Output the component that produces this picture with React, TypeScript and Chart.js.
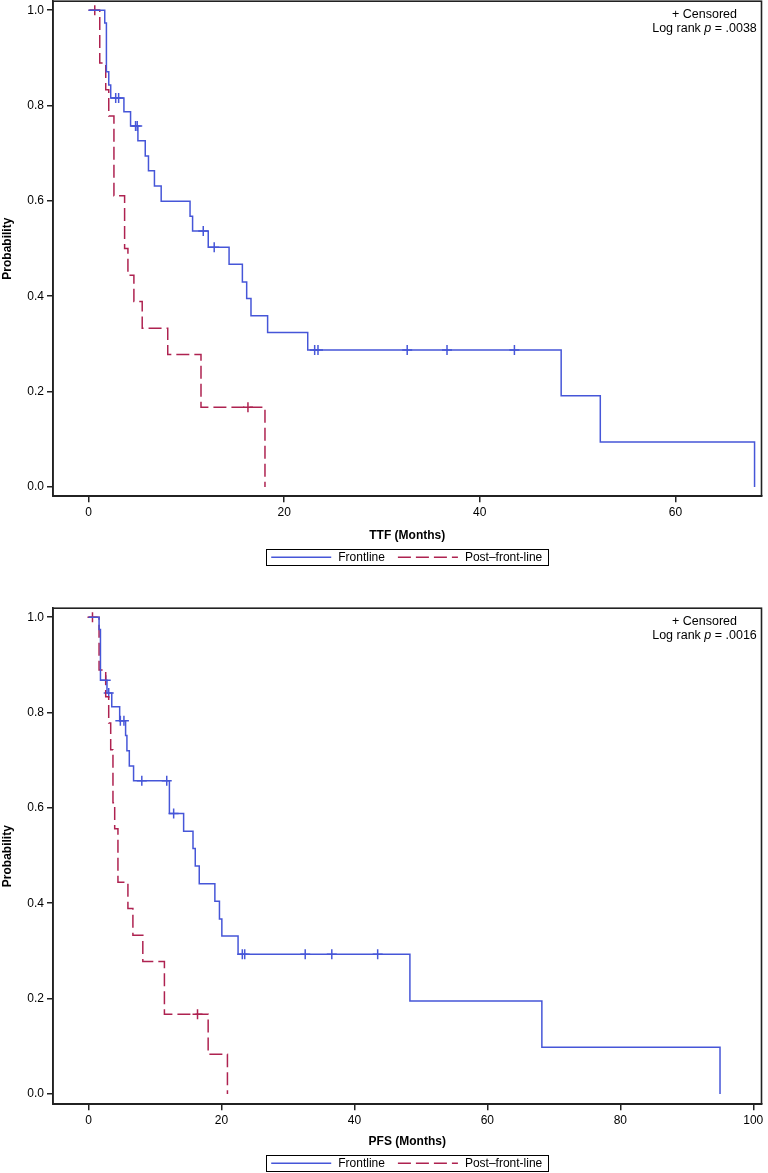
import React, { useEffect, useRef } from 'react';
import { Chart, registerables } from 'chart.js';

Chart.register(...registerables);

const FONT = "'Liberation Sans', Arial, Helvetica, sans-serif";
const BLUE = '#4656D8';
const RED = '#AE2250';

// ---------- TTF panel ----------
const ttfFrontTimes = [0, 1.66, 1.83, 2.07, 2.27, 3.62, 4.3, 5.05, 5.8, 6.13, 6.74, 7.43, 10.38, 10.64, 12.24, 14.37, 15.73, 16.17, 16.61, 18.31, 22.41, 48.32, 52.32, 68.09];
const ttfFrontSurv = [1, 0.973, 0.871, 0.843, 0.816, 0.787, 0.757, 0.726, 0.694, 0.663, 0.631, 0.599, 0.568, 0.537, 0.503, 0.467, 0.43, 0.395, 0.359, 0.324, 0.287, 0.191, 0.094, 0];
const ttfFrontCensTimes = [2.78, 3.08, 4.81, 4.98, 11.73, 12.85, 23.12, 23.46, 32.58, 36.65, 43.54];
const ttfFrontCensSurv = [0.816, 0.816, 0.757, 0.757, 0.537, 0.503, 0.287, 0.287, 0.287, 0.287, 0.287];
const ttfPostTimes = [0, 1.15, 1.76, 2.07, 2.6, 3.69, 4.03, 4.64, 5.49, 8.1, 11.5, 18.04];
const ttfPostSurv = [1, 0.889, 0.833, 0.778, 0.611, 0.5, 0.444, 0.389, 0.333, 0.278, 0.167, 0];
const ttfPostCensTimes = [0.64, 16.3];
const ttfPostCensSurv = [1, 0.167];
const ttfTicks = [0, 20, 40, 60];

// ---------- PFS panel ----------
const pfsFrontTimes = [0, 1.59, 1.8, 2.78, 3.5, 4.69, 5.58, 5.78, 6.14, 6.78, 12.17, 14.31, 15.72, 16.06, 16.66, 19.01, 19.7, 20.06, 22.5, 48.35, 68.2, 95.0];
const pfsFrontSurv = [1, 0.974, 0.868, 0.841, 0.812, 0.783, 0.752, 0.72, 0.688, 0.657, 0.588, 0.551, 0.515, 0.478, 0.441, 0.404, 0.367, 0.331, 0.293, 0.195, 0.098, 0];
const pfsFrontCensTimes = [2.59, 3.04, 4.79, 5.33, 8.02, 11.77, 12.81, 23.14, 23.5, 32.6, 36.6, 43.5];
const pfsFrontCensSurv = [0.868, 0.841, 0.783, 0.783, 0.657, 0.657, 0.588, 0.293, 0.293, 0.293, 0.293, 0.293];
const pfsPostTimes = [0, 1.59, 2.59, 3.04, 3.34, 3.68, 3.94, 4.43, 5.93, 6.68, 8.17, 11.42, 18.0, 20.9];
const pfsPostSurv = [1, 0.889, 0.833, 0.778, 0.722, 0.611, 0.556, 0.444, 0.389, 0.333, 0.278, 0.167, 0.083, 0];
const pfsPostCensTimes = [0.6, 16.4];
const pfsPostCensSurv = [1, 0.167];
const pfsTicks = [0, 20, 40, 60, 80, 100];

const yTicks = [0, 0.2, 0.4, 0.6, 0.8, 1.0];
const seriesLabels = ['Frontline', 'Post\u2013front-line'];

function pts(times: number[], surv: number[]) {
  return times.map((t, i) => ({ x: t, y: surv[i] }));
}

const decorPlugin = {
  id: 'kmDecor',
  afterDraw(chart: any, _args: any, opts: any) {
    const { ctx, chartArea: a } = chart;
    ctx.save();
    // frame
    ctx.strokeStyle = '#222';
    ctx.lineWidth = 1.6;
    ctx.setLineDash([]);
    ctx.strokeRect(a.left, a.top, a.right - a.left, a.bottom - a.top);

    // annotation
    const cx = a.right - 57;
    ctx.fillStyle = '#000';
    ctx.textBaseline = 'middle';
    ctx.font = `12.5px ${FONT}`;
    ctx.textAlign = 'center';
    ctx.fillText('+ Censored', cx, a.top + 13);
    const p1 = 'Log rank ';
    const p2 = 'p';
    const p3 = ' = ' + opts.pValue;
    const w1 = ctx.measureText(p1).width;
    const w3 = ctx.measureText(p3).width;
    ctx.font = `italic 12.5px ${FONT}`;
    const w2 = ctx.measureText(p2).width;
    let x = cx - (w1 + w2 + w3) / 2;
    const y2 = a.top + 27.5;
    ctx.textAlign = 'left';
    ctx.font = `12.5px ${FONT}`;
    ctx.fillText(p1, x, y2);
    x += w1;
    ctx.font = `italic 12.5px ${FONT}`;
    ctx.fillText(p2, x, y2);
    x += w2;
    ctx.font = `12.5px ${FONT}`;
    ctx.fillText(p3, x, y2);

    // x-axis title
    const lcx = (a.left + a.right) / 2;
    ctx.font = `bold 12px ${FONT}`;
    ctx.textAlign = 'center';
    ctx.fillStyle = '#000';
    ctx.fillText(opts.xTitle, lcx, a.bottom + opts.titleOffset);

    // legend
    const ds = chart.data.datasets;
    const items = [ds[0], ds[1]];
    ctx.font = `12px ${FONT}`;
    const lineLen = 60;
    const gapLT = 7;
    const gapItems = 13;
    const padX = 5;
    const tw = items.map((d: any) => ctx.measureText(d.label).width);
    const total = padX + lineLen + gapLT + tw[0] + gapItems + lineLen + gapLT + tw[1] + padX + 1;
    const lcy = a.bottom + opts.legendOffset;
    const bx = lcx - total / 2;
    const bh = 16;
    ctx.strokeStyle = '#000';
    ctx.lineWidth = 1;
    ctx.setLineDash([]);
    ctx.strokeRect(Math.round(bx) + 0.5, Math.round(lcy - bh / 2) + 0.5, Math.round(total), bh);
    let ix = bx + padX;
    items.forEach((d: any, i: number) => {
      ctx.strokeStyle = d.borderColor;
      ctx.lineWidth = 1.5;
      ctx.setLineDash(d.borderDash || []);
      ctx.beginPath();
      ctx.moveTo(ix, lcy);
      ctx.lineTo(ix + lineLen, lcy);
      ctx.stroke();
      ctx.setLineDash([]);
      ix += lineLen + gapLT;
      ctx.fillStyle = '#000';
      ctx.textAlign = 'left';
      ctx.textBaseline = 'middle';
      ctx.fillText(d.label, ix, lcy + 0.5);
      ix += tw[i] + gapItems;
    });
    ctx.restore();
  },
};

type PanelProps = {
  boxHeight: number;
  areaTop: number;
  areaHeight: number;
  xMin: number;
  xMax: number;
  yMin: number;
  yMax: number;
  xTicks: number[];
  xTitle: string;
  titleOffset: number;
  legendOffset: number;
  pValue: string;
  front: { x: number; y: number }[];
  frontCens: { x: number; y: number }[];
  post: { x: number; y: number }[];
  postCens: { x: number; y: number }[];
};

const EXTRA = 40;

function KMPanel(p: PanelProps) {
  const ref = useRef<HTMLCanvasElement | null>(null);
  useEffect(() => {
    const canvas = ref.current;
    if (!canvas) return;
    const canvasH = p.boxHeight + EXTRA;
    let topGuess = 0;
    const chart = new Chart(canvas, {
      type: 'line',
      data: {
        datasets: [
          {
            label: seriesLabels[0],
            data: p.front,
            borderColor: BLUE,
            backgroundColor: BLUE,
            borderWidth: 1.5,
            stepped: 'before',
            pointRadius: 0,
            fill: false,
          },
          {
            label: seriesLabels[1],
            data: p.post,
            borderColor: RED,
            backgroundColor: RED,
            borderWidth: 1.5,
            borderDash: [13, 5],
            stepped: 'before',
            pointRadius: 0,
            fill: false,
          },
          {
            label: 'Frontline censored',
            data: p.frontCens,
            showLine: false,
            pointStyle: 'cross',
            pointRadius: 5,
            pointBorderWidth: 1.5,
            borderColor: BLUE,
            backgroundColor: BLUE,
          },
          {
            label: 'Post censored',
            data: p.postCens,
            showLine: false,
            pointStyle: 'cross',
            pointRadius: 5,
            pointBorderWidth: 1.5,
            borderColor: RED,
            backgroundColor: RED,
          },
        ],
      } as any,
      options: {
        responsive: false,
        animation: false,
        devicePixelRatio: 1,
        layout: { padding: { top: 1, right: 3, left: 0, bottom: 0 } },
        plugins: {
          legend: { display: false },
          tooltip: { enabled: false },
          kmDecor: {
            pValue: p.pValue,
            legendOffset: p.legendOffset,
            titleOffset: p.titleOffset,
            xTitle: p.xTitle,
          },
        } as any,
        scales: {
          x: {
            type: 'linear',
            min: p.xMin,
            max: p.xMax,
            afterBuildTicks: (s: any) => {
              s.ticks = p.xTicks.map((v) => ({ value: v }));
            },
            afterFit: (s: any) => {
              s.height = Math.max(canvasH - topGuess - p.areaHeight, 20);
            },
            ticks: {
              font: { family: FONT, size: 12 },
              color: '#000',
              maxRotation: 0,
              autoSkip: false,
              padding: 3,
              callback: (v: any) => String(v),
            },
            grid: { drawOnChartArea: false, drawTicks: true, tickLength: 6, color: '#222', lineWidth: 1.5 },
            border: { display: true, color: '#222', width: 1.6 },
            title: { display: false },
          },
          y: {
            type: 'linear',
            min: p.yMin,
            max: p.yMax,
            afterBuildTicks: (s: any) => {
              s.ticks = yTicks.map((v) => ({ value: v }));
            },
            afterFit: (s: any) => {
              s.width = 53;
            },
            ticks: {
              font: { family: FONT, size: 12 },
              color: '#000',
              padding: 3,
              autoSkip: false,
              callback: (v: any) => Number(v).toFixed(1),
            },
            grid: { drawOnChartArea: false, drawTicks: true, tickLength: 6, color: '#222', lineWidth: 1.5 },
            border: { display: true, color: '#222', width: 1.6 },
            title: {
              display: true,
              text: 'Probability',
              color: '#000',
              font: { family: FONT, size: 12, weight: 'bold' },
              padding: { top: 0, bottom: 0 },
            },
          },
        },
      } as any,
      plugins: [decorPlugin as any],
    });
    topGuess = chart.chartArea.top;
    chart.update();
    const off = p.areaTop - chart.chartArea.top;
    canvas.style.top = `${off}px`;
    return () => chart.destroy();
  }, []);
  return (
    <div style={{ width: 768, height: p.boxHeight, overflow: 'hidden', position: 'relative' }}>
      <canvas
        ref={ref}
        width={768}
        height={p.boxHeight + EXTRA}
        style={{ display: 'block', position: 'absolute', left: 0, top: 0 }}
      />
    </div>
  );
}

export default function App() {
  useEffect(() => {
    document.body.style.margin = '0';
    document.body.style.background = '#fff';
  }, []);
  return (
    <div style={{ width: 768, height: 1173, background: '#fff', overflow: 'hidden' }}>
      <KMPanel
        boxHeight={590}
        areaTop={1}
        areaHeight={495}
        xMin={-3.63}
        xMax={68.8}
        yMin={-0.0195}
        yMax={1.0189}
        xTicks={ttfTicks}
        xTitle="TTF (Months)"
        titleOffset={39}
        legendOffset={61}
        pValue=".0038"
        front={pts(ttfFrontTimes, ttfFrontSurv)}
        frontCens={pts(ttfFrontCensTimes, ttfFrontCensSurv)}
        post={pts(ttfPostTimes, ttfPostSurv)}
        postCens={pts(ttfPostCensTimes, ttfPostCensSurv)}
      />
      <KMPanel
        boxHeight={583}
        areaTop={18}
        areaHeight={496}
        xMin={-5.34}
        xMax={101.24}
        yMin={-0.0216}
        yMax={1.0189}
        xTicks={pfsTicks}
        xTitle="PFS (Months)"
        titleOffset={37}
        legendOffset={59}
        pValue=".0016"
        front={pts(pfsFrontTimes, pfsFrontSurv)}
        frontCens={pts(pfsFrontCensTimes, pfsFrontCensSurv)}
        post={pts(pfsPostTimes, pfsPostSurv)}
        postCens={pts(pfsPostCensTimes, pfsPostCensSurv)}
      />
    </div>
  );
}
